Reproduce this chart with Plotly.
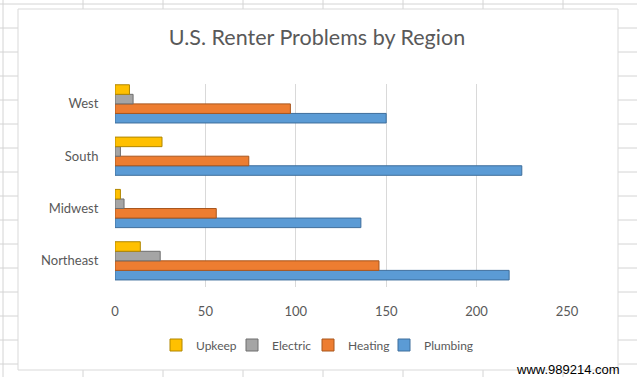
import plotly.graph_objects as go

# ---- data ----
regions = ["Northeast", "Midwest", "South", "West"]
plumbing = [218, 136, 225, 150]
heating = [146, 56, 74, 97]
electric = [25, 5, 3, 10]
upkeep = [14, 3, 26, 8]
x_ticks = [0, 50, 100, 150, 200, 250]

W, H = 637, 377
ML, MR, MT, MB = 115, 70, 84, 90
PW, PH = W - ML - MR, H - MT - MB

def px(x):
    return (x - ML) / PW

def py(y):
    return 1 - (y - MT) / PH

fig = go.Figure()

series = [
    ("Plumbing", plumbing, "#5B9BD5", "#3E6E9C"),
    ("Heating", heating, "#ED7D31", "#A8561D"),
    ("Electric", electric, "#A5A5A5", "#6E6E6E"),
    ("Upkeep", upkeep, "#FFC000", "#B08600"),
]
for name, vals, col, edge in series:
    fig.add_trace(go.Bar(
        y=regions, x=vals, name=name, orientation="h",
        marker=dict(color=col, line=dict(color=edge, width=1)),
    ))

# spacer entry so the last legend label is not clipped (placed last in reversed legend)
fig.add_trace(go.Scatter(x=[None], y=[None], mode="markers", name=" ",
                         marker=dict(color="rgba(0,0,0,0)"), hoverinfo="skip"))
fig.data = (fig.data[-1],) + fig.data[:-1]

shapes = []
grid_col = "#d4d4d4"
# spreadsheet background grid
for gy in range(4, 377, 24):
    shapes.append(dict(type="line", xref="paper", yref="paper", layer="below",
                       x0=px(0), x1=px(W), y0=py(gy), y1=py(gy),
                       line=dict(color=grid_col, width=1)))
for gx in range(3, 637, 80):
    shapes.append(dict(type="line", xref="paper", yref="paper", layer="below",
                       x0=px(gx), x1=px(gx), y0=py(0), y1=py(H),
                       line=dict(color=grid_col, width=1)))
# chart area
shapes.append(dict(type="rect", xref="paper", yref="paper", layer="below",
                   x0=px(18), x1=px(618), y0=py(370), y1=py(9),
                   fillcolor="white", line=dict(color="#d9d9d9", width=1)))

fig.update_layout(
    width=W, height=H,
    margin=dict(l=ML, r=MR, t=MT, b=MB),
    paper_bgcolor="white", plot_bgcolor="rgba(0,0,0,0)",
    barmode="group", bargap=0.27, bargroupgap=0,
    title=dict(text="U.S. Renter Problems by Region", x=317 / W, xanchor="center",
               y=1 - 37 / H, yanchor="middle", yref="container",
               font=dict(family="Lato", size=21.5, color="#595959")),
    xaxis=dict(type="linear", range=[0, 250], tickvals=x_ticks, showgrid=True,
               gridcolor="#d9d9d9", gridwidth=1, zeroline=False, showline=False,
               ticks="outside", ticklen=12, tickcolor="rgba(0,0,0,0)",
               tickfont=dict(family="Lato", size=13, color="#595959")),
    yaxis=dict(type="category", categoryorder="array", categoryarray=regions,
               range=[-0.5, 3.38], showgrid=False, zeroline=False, showline=False,
               ticks="outside", ticklen=13, tickcolor="rgba(0,0,0,0)",
               tickfont=dict(family="Lato", size=13, color="#595959")),
    legend=dict(orientation="h", traceorder="reversed", x=px(156), xanchor="left",
                y=py(345), yanchor="middle", itemwidth=30, entrywidth=31,
                font=dict(family="Lato", size=12, color="#595959"),
                bgcolor="rgba(0,0,0,0)"),
    shapes=shapes,
    annotations=[dict(text="www.989214.com", xref="paper", yref="paper",
                      x=px(622), xanchor="right", y=py(369), yanchor="middle",
                      showarrow=False, font=dict(family="Liberation Sans", size=13, color="black"))],
)

fig.write_html("out.html", config={"displayModeBar": False},
               post_script="document.body.style.margin='0';document.body.style.overflow='hidden';")
